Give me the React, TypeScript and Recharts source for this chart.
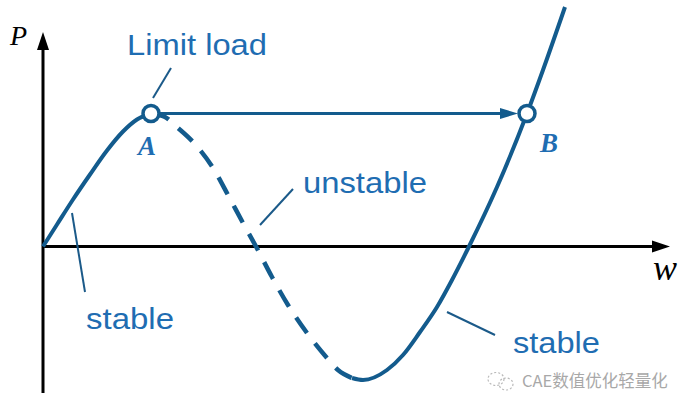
import React from 'react';
import { ComposedChart, Line, XAxis, YAxis, ReferenceLine, ReferenceDot } from 'recharts';

// Stable loading branch: origin up to the limit point A
const loadingBranch = [
  { w: 0, P: 0 },
  { w: 0.14, P: 0.22 },
  { w: 0.3, P: 0.47 },
  { w: 0.47, P: 0.72 },
  { w: 0.64, P: 0.96 },
  { w: 0.8, P: 1.15 },
  { w: 0.94, P: 1.27 },
  { w: 1.08, P: 1.33 },
];

// Unstable (softening) branch, drawn dashed
const unstableBranch = [
  { w: 1.08, P: 1.33 },
  { w: 1.22, P: 1.295 },
  { w: 1.35, P: 1.185 },
  { w: 1.5, P: 1.045 },
  { w: 1.7, P: 0.785 },
  { w: 1.85, P: 0.515 },
  { w: 2.0, P: 0.235 },
  { w: 2.13, P: 0 },
  { w: 2.29, P: -0.305 },
  { w: 2.45, P: -0.585 },
  { w: 2.64, P: -0.865 },
  { w: 2.84, P: -1.115 },
  { w: 2.95, P: -1.235 },
  { w: 3.09, P: -1.315 },
];

// Stable stiffening branch through B
const stiffeningBranch = [
  { w: 3.09, P: -1.315 },
  { w: 3.2, P: -1.335 },
  { w: 3.44, P: -1.235 },
  { w: 3.6, P: -1.085 },
  { w: 3.77, P: -0.855 },
  { w: 3.94, P: -0.605 },
  { w: 4.09, P: -0.335 },
  { w: 4.26, P: 0 },
  { w: 4.54, P: 0.595 },
  { w: 4.84, P: 1.33 },
  { w: 5.0, P: 1.765 },
  { w: 5.22, P: 2.395 },
];

const limitPoint = { w: 1.08, P: 1.33 };
const snapPoint = { w: 4.84, P: 1.33 };
const pointNames = ['A', 'B'];
const axisNames = ['P', 'w'];
const branchNames = ['Limit load', 'unstable', 'stable', 'stable'];
const watermark = 'CAE数值优化轻量化';

const CURVE = '#135b8d';
const TEXT = '#1f6db2';
const LEADER = '#1b5a89';
const SANS = '"Liberation Sans", Arial, sans-serif';
const SERIF = '"Liberation Serif", "Times New Roman", serif';

const ArrowShape = (color: string, width: number, headLen: number, headHalf: number) => (p: any) => {
  const { x1, y1, x2, y2 } = p;
  const dx = x2 - x1;
  const dy = y2 - y1;
  const len = Math.sqrt(dx * dx + dy * dy) || 1;
  const ux = dx / len;
  const uy = dy / len;
  const bx = x2 - ux * headLen;
  const by = y2 - uy * headLen;
  const nx = -uy;
  const ny = ux;
  const pts = `${x2},${y2} ${bx + nx * headHalf},${by + ny * headHalf} ${bx - nx * headHalf},${by - ny * headHalf}`;
  return (
    <g>
      <line x1={x1} y1={y1} x2={bx + ux * 2} y2={by + uy * 2} stroke={color} strokeWidth={width} />
      <polygon points={pts} fill={color} />
    </g>
  );
};

const TextShape = (text: string, opts: any) => (p: any) => (
  <text
    x={p.cx}
    y={p.cy}
    fill={opts.fill}
    fontSize={opts.size}
    fontFamily={opts.family}
    fontStyle={opts.italic ? 'italic' : 'normal'}
    fontWeight={opts.bold ? 'bold' : 'normal'}
    textLength={opts.length}
    lengthAdjust={opts.length ? 'spacingAndGlyphs' : undefined}
  >
    {text}
  </text>
);

const WatermarkShape = (p: any) => (
  <g>
    <g fill="none" stroke="#b9b9b9" strokeWidth={1.2} strokeDasharray="2 2">
      <ellipse cx={p.cx - 26} cy={p.cy - 8} rx={8} ry={6.5} />
      <ellipse cx={p.cx - 16} cy={p.cy - 3} rx={7} ry={6} />
    </g>
    <text x={p.cx} y={p.cy} fill="#a8a8a8" fontSize={16.5} fontFamily='"Noto Sans CJK SC", sans-serif'>
      {watermark}
    </text>
  </g>
);

const Circle = (p: any) => (
  <circle cx={p.cx} cy={p.cy} r={8} fill="#ffffff" stroke={CURVE} strokeWidth={3.5} />
);

export default function App() {
  return (
    <div style={{ position: 'absolute', left: 0, top: 0, width: 693, height: 410, background: '#fff' }}>
      <ComposedChart width={693} height={410} margin={{ top: 0, right: 0, bottom: 0, left: 0 }} accessibilityLayer={false}>
        <XAxis type="number" dataKey="w" domain={[-0.43, 6.5]} hide allowDataOverflow />
        <YAxis type="number" dataKey="P" domain={[-1.635, 2.465]} hide allowDataOverflow />

        {/* axes with arrowheads */}
        <ReferenceLine
          segment={[{ x: 0, y: -1.465 }, { x: 0, y: 2.145 }]}
          shape={ArrowShape('#000', 3, 18, 6)}
        />
        <ReferenceLine
          segment={[{ x: 0, y: 0 }, { x: 6.27, y: 0 }]}
          shape={ArrowShape('#000', 3, 18, 6)}
        />

        <Line data={loadingBranch} dataKey="P" type="monotone" stroke={CURVE} strokeWidth={4} dot={false} activeDot={false} isAnimationActive={false} />
        <Line data={unstableBranch} dataKey="P" type="monotone" stroke={CURVE} strokeWidth={4.5} strokeDasharray="19 13" dot={false} activeDot={false} isAnimationActive={false} />
        <Line data={stiffeningBranch} dataKey="P" type="monotone" stroke={CURVE} strokeWidth={4} dot={false} activeDot={false} isAnimationActive={false} />

        {/* snap-through arrow */}
        <ReferenceLine
          segment={[{ x: 1.17, y: 1.33 }, { x: 4.75, y: 1.33 }]}
          shape={ArrowShape(CURVE, 3, 18, 5.5)}
        />

        {/* leader lines */}
        <ReferenceLine segment={[{ x: 1.28, y: 1.785 }, { x: 1.1, y: 1.485 }]} stroke={LEADER} strokeWidth={2} />
        <ReferenceLine segment={[{ x: 2.5, y: 0.575 }, { x: 2.17, y: 0.215 }]} stroke={LEADER} strokeWidth={2} />
        <ReferenceLine segment={[{ x: 0.29, y: 0.335 }, { x: 0.42, y: -0.455 }]} stroke={LEADER} strokeWidth={2} />
        <ReferenceLine segment={[{ x: 4.04, y: -0.655 }, { x: 4.52, y: -0.885 }]} stroke={LEADER} strokeWidth={2} />

        <ReferenceDot x={limitPoint.w} y={limitPoint.P} shape={Circle} />
        <ReferenceDot x={snapPoint.w} y={snapPoint.P} shape={Circle} />

        <ReferenceDot x={0.95} y={0.915} shape={TextShape(pointNames[0], { fill: TEXT, size: 27, family: SERIF, italic: true, bold: true })} />
        <ReferenceDot x={4.97} y={0.945} shape={TextShape(pointNames[1], { fill: TEXT, size: 27, family: SERIF, italic: true, bold: true })} />

        <ReferenceDot x={-0.33} y={2.015} shape={TextShape(axisNames[0], { fill: '#000', size: 28, family: SERIF, italic: true })} />
        <ReferenceDot x={6.1} y={-0.335} shape={TextShape(axisNames[1], { fill: '#000', size: 36, family: SERIF, italic: true })} />

        <ReferenceDot x={0.84} y={1.915} shape={TextShape(branchNames[0], { fill: TEXT, size: 29, family: SANS, length: 140 })} />
        <ReferenceDot x={2.6} y={0.535} shape={TextShape(branchNames[1], { fill: TEXT, size: 29, family: SANS, length: 124 })} />
        <ReferenceDot x={0.43} y={-0.825} shape={TextShape(branchNames[2], { fill: TEXT, size: 29, family: SANS, length: 88 })} />
        <ReferenceDot x={4.7} y={-1.065} shape={TextShape(branchNames[3], { fill: TEXT, size: 29, family: SANS, length: 87 })} />

        <ReferenceDot x={4.79} y={-1.405} shape={WatermarkShape} />
      </ComposedChart>
    </div>
  );
}
